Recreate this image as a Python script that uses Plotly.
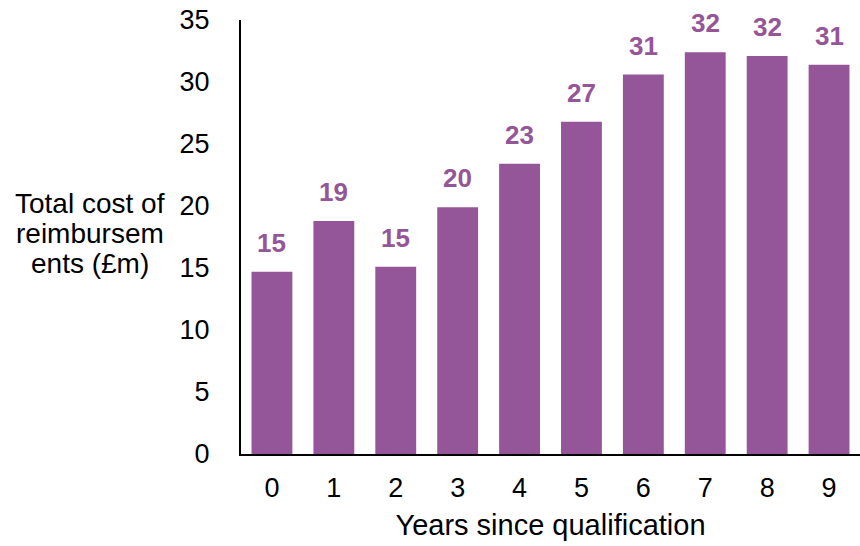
import plotly.graph_objects as go

years = ["0", "1", "2", "3", "4", "5", "6", "7", "8", "9"]
cost = [14.7, 18.8, 15.1, 19.9, 23.4, 26.8, 30.6, 32.4, 32.1, 31.4]
labels = ["15", "19", "15", "20", "23", "27", "31", "32", "32", "31"]
title_lines = ["Total cost of", "reimbursem", "ents (£m)"]

purple = "#955699"
font = "Liberation Sans, Arial, sans-serif"

fig = go.Figure(go.Bar(x=years, y=cost, marker=dict(color=purple, line=dict(width=0)), hoverinfo="skip"))

for x, y, t in zip(years, cost, labels):
    fig.add_annotation(x=x, y=y, text=f"<b>{t}</b>", showarrow=False, yanchor="middle", yshift=29,
                       font=dict(family=font, size=26, color=purple))

W, L, R, T, B = 860, 241, 0, 20, 92
PH = 546 - T - B
for i, line in enumerate(title_lines):
    fig.add_annotation(xref="paper", yref="paper", x=(90 - L) / (W - L - R), y=(454 - (203 + 30 * i)) / PH,
                       text=line, showarrow=False, xanchor="center", yanchor="middle",
                       font=dict(family=font, size=28, color="black"))

fig.update_layout(
    width=860, height=546, margin=dict(l=L, r=R, t=T, b=B),
    plot_bgcolor="white", paper_bgcolor="white", bargap=0.34, showlegend=False,
    font=dict(family=font, size=27, color="black"),
    xaxis=dict(title=dict(text="Years since qualification", font=dict(size=29), standoff=12),
               showline=True, linecolor="black", linewidth=2, ticks="", showgrid=False,
               tickfont=dict(size=27), ticklabelstandoff=9),
    yaxis=dict(range=[0, 35], dtick=5, showline=True, linecolor="black", linewidth=2, ticks="",
               showgrid=False, zeroline=False, tickfont=dict(size=27), ticklabelstandoff=24),
)
fig.write_html("out.html")
